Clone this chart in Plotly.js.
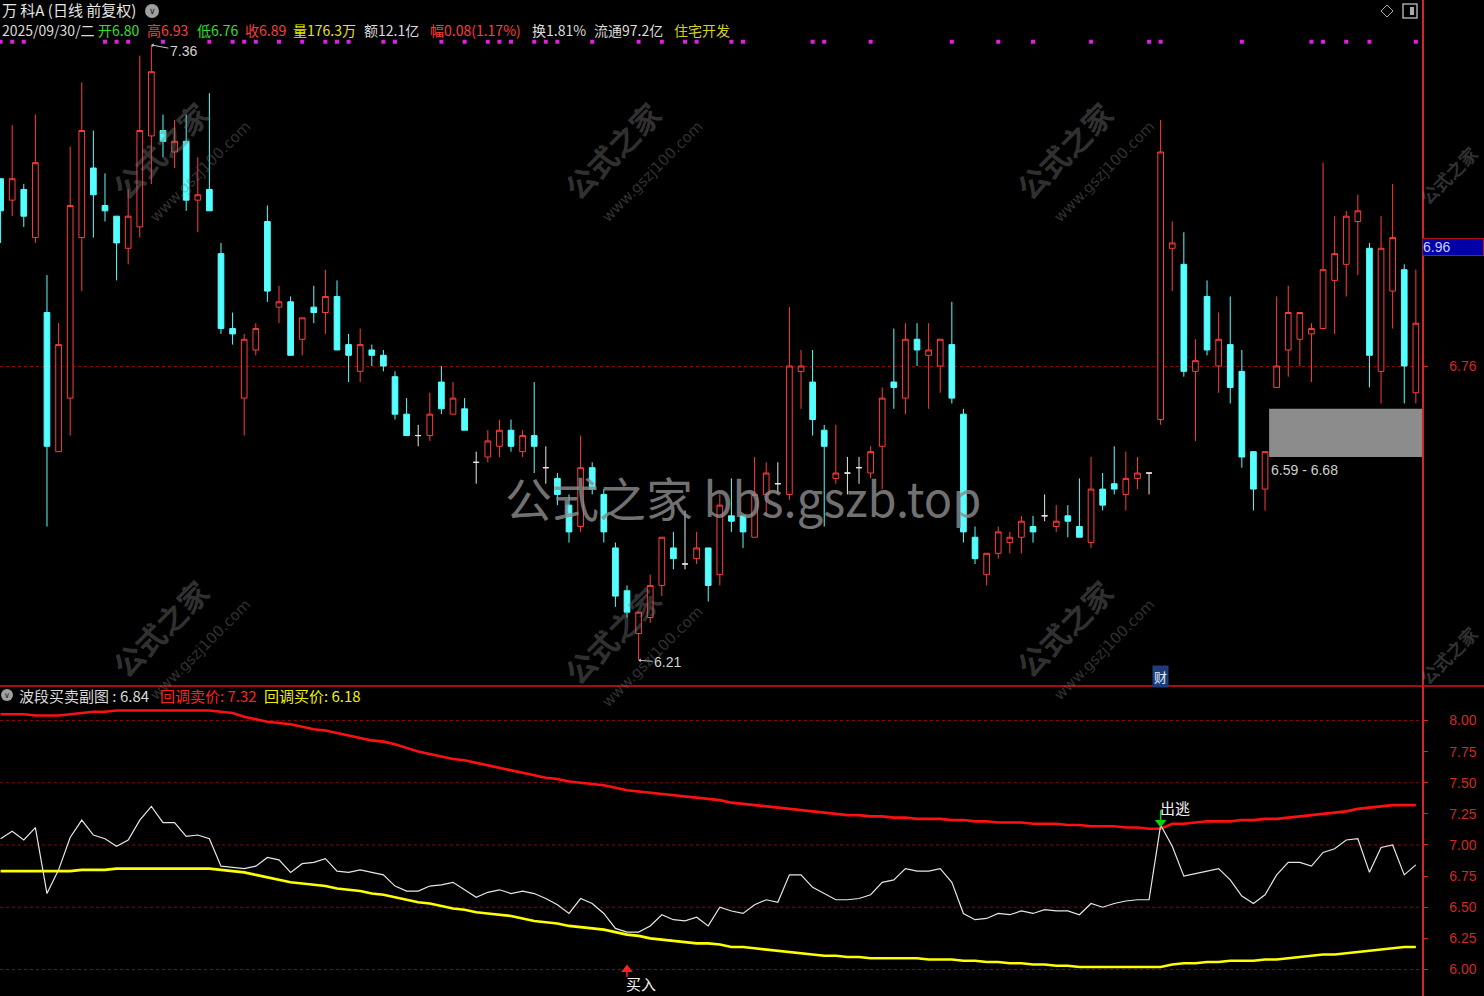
<!DOCTYPE html>
<html><head><meta charset="utf-8">
<script src="https://cdn.plot.ly/plotly-3.0.1.min.js"></script>
<style>html,body{margin:0;padding:0;background:#000;overflow:hidden}#chart{width:1484px;height:996px}</style>
</head><body><div id="chart"></div>
<script>
// ---------- data ----------
const openP  = [7.11,7.07,7.09,7.00,6.86,6.60,6.70,7.00,7.13,7.06,7.04,6.98,7.02,7.19,7.20,7.16,7.18,7.07,7.09,6.97,
                6.83,6.70,6.79,7.03,6.87,6.88,6.81,6.87,6.86,6.89,6.80,6.75,6.79,6.78,6.74,6.67,6.63,6.63,6.73,6.67,
                6.68,6.58,6.59,6.61,6.64,6.60,6.63,6.57,6.55,6.50,6.46,6.57,6.52,6.42,6.34,6.26,6.29,6.35,6.42,6.39,
                6.40,6.42,6.37,6.48,6.48,6.44,6.52,6.54,6.52,6.75,6.73,6.64,6.55,6.56,6.57,6.56,6.61,6.73,6.70,6.81,
                6.78,6.76,6.80,6.67,6.44,6.37,6.41,6.43,6.44,6.46,6.48,6.46,6.48,6.46,6.43,6.53,6.54,6.52,6.55,6.56,
                6.66,6.98,6.95,6.75,6.89,6.76,6.80,6.75,6.60,6.53,6.72,6.79,6.81,6.82,6.83,6.92,6.95,7.03,6.98,6.75,
                6.90,6.94,6.71];
const highP  = [7.11,7.21,7.10,7.23,6.93,6.84,7.17,7.29,7.20,7.12,7.04,7.09,7.34,7.36,7.23,7.22,7.23,7.15,7.27,6.99,
                6.86,6.82,6.84,7.06,6.91,6.89,6.85,6.91,6.94,6.92,6.82,6.83,6.80,6.79,6.75,6.70,6.65,6.71,6.76,6.73,
                6.70,6.60,6.64,6.66,6.66,6.64,6.73,6.61,6.56,6.52,6.63,6.58,6.53,6.43,6.35,6.30,6.37,6.44,6.45,6.49,
                6.45,6.42,6.52,6.55,6.48,6.59,6.58,6.58,6.87,6.79,6.79,6.65,6.65,6.59,6.59,6.61,6.72,6.83,6.84,6.84,
                6.84,6.81,6.88,6.68,6.46,6.41,6.46,6.45,6.48,6.48,6.52,6.50,6.50,6.55,6.59,6.56,6.61,6.60,6.59,6.56,
                7.22,7.03,7.01,6.81,6.92,6.86,6.89,6.79,6.60,6.60,6.89,6.91,6.86,6.84,7.14,7.04,7.05,7.08,6.99,7.04,
                7.10,6.95,6.94];
const lowP   = [6.99,7.04,7.02,6.99,6.46,6.60,6.63,6.90,7.00,7.03,6.92,6.95,7.00,7.10,7.15,7.13,7.05,7.01,7.05,6.82,
                6.80,6.63,6.78,6.88,6.84,6.78,6.78,6.84,6.82,6.79,6.73,6.73,6.76,6.75,6.66,6.63,6.61,6.62,6.67,6.67,
                6.64,6.54,6.58,6.59,6.60,6.59,6.56,6.54,6.50,6.43,6.45,6.52,6.43,6.31,6.29,6.21,6.28,6.33,6.38,6.38,
                6.39,6.32,6.35,6.45,6.42,6.44,6.48,6.52,6.51,6.68,6.63,6.46,6.54,6.52,6.54,6.55,6.53,6.68,6.67,6.76,
                6.68,6.71,6.69,6.43,6.39,6.35,6.40,6.41,6.41,6.43,6.47,6.45,6.44,6.44,6.42,6.49,6.52,6.49,6.53,6.52,
                6.65,6.90,6.74,6.62,6.78,6.71,6.69,6.57,6.49,6.49,6.72,6.74,6.76,6.73,6.83,6.82,6.89,6.93,6.72,6.69,
                6.83,6.69,6.69];
const closeP = [7.05,7.11,7.04,7.14,6.61,6.80,7.06,7.20,7.08,7.05,6.99,7.04,7.20,7.31,7.18,7.18,7.07,7.08,7.05,6.83,
                6.82,6.81,6.83,6.90,6.88,6.78,6.85,6.86,6.89,6.79,6.78,6.80,6.78,6.76,6.67,6.63,6.63,6.67,6.68,6.70,
                6.64,6.58,6.62,6.64,6.61,6.63,6.61,6.57,6.52,6.45,6.57,6.53,6.45,6.33,6.30,6.30,6.35,6.44,6.40,6.39,
                6.42,6.35,6.50,6.47,6.45,6.52,6.56,6.54,6.76,6.76,6.66,6.61,6.56,6.56,6.57,6.60,6.70,6.72,6.81,6.79,
                6.79,6.81,6.70,6.45,6.40,6.41,6.45,6.44,6.47,6.45,6.48,6.47,6.47,6.44,6.53,6.50,6.53,6.55,6.56,6.56,
                7.16,6.99,6.75,6.77,6.79,6.81,6.72,6.59,6.53,6.60,6.76,6.86,6.86,6.83,6.94,6.97,7.04,7.05,6.78,6.98,
                7.00,6.76,6.84];
// 回调卖价 (red) and 回调买价 (yellow)
const sellLine = [8.05,8.05,8.05,8.04,8.04,8.04,8.05,8.06,8.07,8.07,8.08,8.08,8.08,8.08,8.08,8.08,8.08,8.08,8.08,8.07,
                  8.06,8.03,8.01,7.99,7.98,7.97,7.95,7.93,7.92,7.90,7.88,7.86,7.84,7.83,7.81,7.78,7.75,7.73,7.71,7.69,
                  7.68,7.66,7.64,7.62,7.60,7.58,7.56,7.54,7.53,7.51,7.50,7.49,7.48,7.46,7.44,7.43,7.42,7.41,7.40,7.39,
                  7.38,7.37,7.36,7.34,7.33,7.32,7.31,7.30,7.29,7.28,7.27,7.26,7.25,7.24,7.24,7.23,7.23,7.22,7.22,7.21,
                  7.21,7.21,7.20,7.20,7.19,7.19,7.18,7.18,7.18,7.17,7.17,7.17,7.16,7.16,7.15,7.15,7.15,7.14,7.14,7.13,
                  7.13,7.17,7.17,7.18,7.19,7.19,7.19,7.20,7.20,7.21,7.21,7.22,7.23,7.24,7.25,7.26,7.27,7.29,7.30,7.31,
                  7.32,7.32,7.32];
const buyLine  = [6.79,6.79,6.79,6.79,6.79,6.79,6.79,6.80,6.80,6.80,6.81,6.81,6.81,6.81,6.81,6.81,6.81,6.81,6.81,6.80,
                  6.79,6.78,6.76,6.74,6.72,6.70,6.69,6.68,6.67,6.65,6.64,6.63,6.61,6.60,6.58,6.56,6.54,6.53,6.51,6.49,
                  6.48,6.46,6.45,6.44,6.43,6.41,6.39,6.38,6.37,6.35,6.34,6.33,6.32,6.30,6.28,6.27,6.25,6.24,6.23,6.22,
                  6.21,6.21,6.20,6.18,6.18,6.17,6.16,6.15,6.14,6.13,6.12,6.11,6.11,6.10,6.10,6.09,6.09,6.09,6.09,6.09,
                  6.08,6.08,6.08,6.07,6.07,6.06,6.06,6.05,6.05,6.04,6.04,6.03,6.03,6.02,6.02,6.02,6.02,6.02,6.02,6.02,
                  6.02,6.04,6.05,6.05,6.06,6.06,6.07,6.07,6.07,6.08,6.08,6.09,6.10,6.11,6.12,6.12,6.13,6.14,6.15,6.16,
                  6.17,6.18,6.18];
const signalDots = [0,1,2,9,10,11,14,18,20,21,22,24,26,28,29,30,33,34,38,40,42,43,44,46,47,48,51,55,57,59,60,63,64,
                    70,71,75,82,86,89,94,99,100,107,113,114,116,118,122];
const buyIndex = 54, escapeIndex = 100, caiIndex = 100;
const highMark = {i:13, v:7.36}, lowMark = {i:55, v:6.21};
const gapZone = {start:109, lo:6.59, hi:6.68};
const mainTicks = [6.76];
const subTicks = [6.00,6.25,6.50,6.75,7.00,7.25,7.50,7.75,8.00];
const subGrid = [6.00,6.50,7.00,7.50,8.00];
const headerLine1 = '万 科A (日线 前复权)';
const headerItems = ['2025/09/30/二','开6.80','高6.93','低6.76','收6.89','量176.3万','额12.1亿','幅0.08(1.17%)','换1.81%','流通97.2亿','住宅开发'];
const subTitle = {name:'波段买卖副图', val:'6.84', sellLbl:'回调卖价', sellVal:'7.32', buyLbl:'回调买价', buyVal:'6.18'};
const cursorPrice = '6.96';

// ---------- layout geometry & styles ----------
const W = 1484, H = 996, PW = 1422, SPLIT = 686;
const px = p => p / PW;              // pixel x -> paper x
const py = p => 1 - p / H;           // pixel y -> paper y
const xRange = [-0.05, 122.53];
const mainRange = [6.162, 7.444];
const subRange = [5.787, 8.277];
const RED = '#ff3c3c', CYAN = '#54ffff', AXRED = '#d02828', GRID = '#9a0000';
const headerX = [0, 96, 145, 195, 243, 291, 362, 428, 530, 592, 672];
const headerColors = ['#dcdcdc','#2ee02e','#ff3c3c','#2ee02e','#ff3c3c','#e6e600','#dcdcdc','#ff3c3c','#dcdcdc','#dcdcdc','#d2d21e'];

const N = closeP.length;
const idx = Array.from({length:N}, (_, i) => i);
const dojiIdx = idx.filter(i => openP[i] === closeP[i]);
const bodyIdx = idx.filter(i => openP[i] !== closeP[i]);
const pick = (arr, ids) => ids.map(i => arr[i]);

function candles(ids, incLine, incFill, decLine, decFill) {
  return {type:'candlestick', x: ids, open: pick(openP, ids), high: pick(highP, ids),
    low: pick(lowP, ids), close: pick(closeP, ids), xaxis:'x', yaxis:'y',
    increasing:{line:{color:incLine, width:1}, fillcolor:incFill},
    decreasing:{line:{color:decLine, width:1}, fillcolor:decFill},
    whiskerwidth:0, hoverinfo:'none', showlegend:false};
}

const traces = [
  candles(bodyIdx, RED, '#000000', CYAN, CYAN),
  candles(dojiIdx, '#e8e8e8', '#e8e8e8', '#e8e8e8', '#e8e8e8'),
  {type:'scatter', mode:'markers', x: signalDots, y: signalDots.map(() => 7.366), xaxis:'x', yaxis:'y',
   marker:{symbol:'square', size:4, color:'#e020e0'}, hoverinfo:'none', showlegend:false},
  {type:'scatter', mode:'lines', x: idx, y: sellLine, xaxis:'x', yaxis:'y2',
   line:{color:'#ff1010', width:2.6}, hoverinfo:'none', showlegend:false},
  {type:'scatter', mode:'lines', x: idx, y: buyLine, xaxis:'x', yaxis:'y2',
   line:{color:'#ffff00', width:2.6}, hoverinfo:'none', showlegend:false},
  {type:'scatter', mode:'lines', x: idx, y: closeP, xaxis:'x', yaxis:'y2',
   line:{color:'#e6e6e6', width:1.2}, hoverinfo:'none', showlegend:false},
  {type:'scatter', mode:'lines', x:[escapeIndex, escapeIndex], y:[sellLine[escapeIndex]+0.06, sellLine[escapeIndex]+0.15],
   xaxis:'x', yaxis:'y2', line:{color:'#10d010', width:1.5}, hoverinfo:'none', showlegend:false},
  {type:'scatter', mode:'markers', x:[escapeIndex], y:[sellLine[escapeIndex]+0.05], xaxis:'x', yaxis:'y2',
   marker:{symbol:'triangle-down', size:10, color:'#10d010'}, hoverinfo:'none', showlegend:false},
  {type:'scatter', mode:'lines', x:[buyIndex, buyIndex], y:[5.99, 5.94], xaxis:'x', yaxis:'y2',
   line:{color:'#ff2020', width:1.5}, hoverinfo:'none', showlegend:false},
  {type:'scatter', mode:'markers', x:[buyIndex], y:[6.0], xaxis:'x', yaxis:'y2',
   marker:{symbol:'triangle-up', size:10, color:'#ff2020'}, hoverinfo:'none', showlegend:false}
];

const CJK = '"Noto Sans CJK SC", "Noto Sans", sans-serif';
const WM = 'rgba(120,120,120,0.42)';
const wmSpots = [[160,150],[612,150],[1064,150],[160,628],[612,635],[1064,628]];
const wmEdge = [[1448,175],[1448,655]];

const annotations = [
  {xref:'paper', yref:'paper', x:0, y:py(9), xanchor:'left', yanchor:'middle', showarrow:false,
   text:headerLine1, font:{family:CJK, size:15, color:'#e6e6e6'}},
  {xref:'paper', yref:'paper', x:px(152), y:py(11), xanchor:'center', yanchor:'middle', showarrow:false,
   text:'∨', font:{family:'DejaVu Sans', size:9, color:'#202020'}},
  {xref:'paper', yref:'paper', x:px(17), y:py(695), xanchor:'left', yanchor:'middle', showarrow:false,
   text:`${subTitle.name} : ${subTitle.val}`, font:{family:CJK, size:15, color:'#d8d8d8'}},
  {xref:'paper', yref:'paper', x:px(158), y:py(695), xanchor:'left', yanchor:'middle', showarrow:false,
   text:`${subTitle.sellLbl}: ${subTitle.sellVal}`, font:{family:CJK, size:15, color:'#ff2020'}},
  {xref:'paper', yref:'paper', x:px(262), y:py(695), xanchor:'left', yanchor:'middle', showarrow:false,
   text:`${subTitle.buyLbl}: ${subTitle.buyVal}`, font:{family:CJK, size:15, color:'#f0f000'}},
  {xref:'paper', yref:'paper', x:px(7), y:py(695), xanchor:'center', yanchor:'middle', showarrow:false,
   text:'∨', font:{family:'DejaVu Sans', size:8, color:'#202020'}},
  {xref:'x', yref:'y', x:highMark.i, y:highMark.v, text:highMark.v.toFixed(2), showarrow:true, ax:32, ay:6,
   arrowhead:1, arrowsize:0.7, arrowwidth:1, arrowcolor:'#c8c8c8', standoff:0, startstandoff:0,
   font:{family:'Liberation Sans', size:14, color:'#d2d2d2'}},
  {xref:'x', yref:'y', x:lowMark.i, y:lowMark.v, text:lowMark.v.toFixed(2), showarrow:true, ax:29, ay:2,
   arrowhead:1, arrowsize:0.7, arrowwidth:1, arrowcolor:'#c8c8c8', standoff:0, startstandoff:0,
   font:{family:'Liberation Sans', size:14, color:'#d2d2d2'}},
  {xref:'x', yref:'y', x:gapZone.start+0.35, y:gapZone.lo, xanchor:'left', yanchor:'top', yshift:-3, showarrow:false,
   text:`${gapZone.lo.toFixed(2)} - ${gapZone.hi.toFixed(2)}`, font:{family:'Liberation Sans', size:14, color:'#cfcfcf'}},
  {xref:'x', yref:'paper', x:caiIndex, y:py(676), xanchor:'center', yanchor:'middle', showarrow:false,
   text:'财', bgcolor:'#1e3c7a', borderpad:1, font:{family:CJK, size:13, color:'#e4ecff'}},
  {xref:'paper', yref:'paper', x:1, y:py(247), xanchor:'left', yanchor:'middle', showarrow:false,
   text:cursorPrice, align:'left', width:60, height:16, bgcolor:'#0000a8', bordercolor:'#b01010', borderwidth:1, borderpad:0,
   font:{family:'Liberation Sans', size:14, color:'#c8d0ff'}},
  {xref:'x', yref:'y2', x:escapeIndex, y:sellLine[escapeIndex]+0.17, xanchor:'left', xshift:-3, yanchor:'middle', showarrow:false,
   text:'出逃', font:{family:CJK, size:15, color:'#f0f0f0'}},
  {xref:'x', yref:'y2', x:buyIndex, y:5.89, xanchor:'left', xshift:-3, yanchor:'middle', showarrow:false,
   text:'买入', font:{family:CJK, size:15, color:'#f0f0f0'}},
  {xref:'paper', yref:'paper', x:px(743), y:py(496), xanchor:'center', yanchor:'middle', showarrow:false,
   text:'公式之家 bbs.gszb.top', font:{family:CJK, size:47, color:'rgba(140,140,140,0.82)'}}
];
headerItems.forEach((t, k) => annotations.push({xref:'paper', yref:'paper', x:px(headerX[k]), y:py(29.5),
  xanchor:'left', yanchor:'middle', showarrow:false, text:t, font:{family:CJK, size:14, color:headerColors[k]}}));
wmSpots.forEach(([wx, wy]) => {
  annotations.push({xref:'paper', yref:'paper', x:px(wx), y:py(wy), xanchor:'center', yanchor:'middle', showarrow:false,
    text:'<b>公式之家</b>', textangle:-45, font:{family:CJK, size:30, color:WM}});
  annotations.push({xref:'paper', yref:'paper', x:px(wx+40), y:py(wy+22), xanchor:'center', yanchor:'middle', showarrow:false,
    text:'www.gszj100.com', textangle:-45, font:{family:'DejaVu Sans', size:15, color:WM}});
});
wmEdge.forEach(([wx, wy]) => annotations.push({xref:'paper', yref:'paper', x:px(wx), y:py(wy), xanchor:'center',
  yanchor:'middle', showarrow:false, text:'<b>公式之家</b>', textangle:-45, font:{family:CJK, size:18, color:WM}}));

const shapes = [
  {type:'rect', xref:'x', yref:'y', x0:gapZone.start+0.35, x1:xRange[1], y0:gapZone.lo, y1:gapZone.hi,
   fillcolor:'#8c8c8c', line:{width:0}, layer:'below'},
  {type:'line', xref:'paper', yref:'paper', x0:0, x1:W/PW, y0:py(SPLIT), y1:py(SPLIT), line:{color:'#e01010', width:1.6}},
  {type:'circle', xref:'paper', yref:'paper', xsizemode:'pixel', ysizemode:'pixel', xanchor:px(152), yanchor:py(11),
   x0:-7, x1:7, y0:-7, y1:7, fillcolor:'#a0a0a0', line:{width:0}},
  {type:'circle', xref:'paper', yref:'paper', xsizemode:'pixel', ysizemode:'pixel', xanchor:px(7), yanchor:py(695),
   x0:-6, x1:6, y0:-6, y1:6, fillcolor:'#a0a0a0', line:{width:0}},
  {type:'path', xref:'paper', yref:'paper', xsizemode:'pixel', ysizemode:'pixel', xanchor:px(1387), yanchor:py(11),
   path:'M 0 6 L 6 0 L 0 -6 L -6 0 Z', line:{color:'#a8a8a8', width:1}},
  {type:'rect', xref:'paper', yref:'paper', xsizemode:'pixel', ysizemode:'pixel', xanchor:px(1410), yanchor:py(11),
   x0:-7, x1:7, y0:-7, y1:7, line:{color:'#a8a8a8', width:1.5}},
  {type:'rect', xref:'paper', yref:'paper', xsizemode:'pixel', ysizemode:'pixel', xanchor:px(1410), yanchor:py(11),
   x0:0, x1:4, y0:-4, y1:4, fillcolor:'#a8a8a8', line:{width:0}}
].concat(subGrid.map(v => ({type:'line', xref:'paper', yref:'y2', x0:0, x1:1, y0:v, y1:v,
   line:{color:GRID, width:1, dash:'dot'}, layer:'below'})));

const axisCommon = {side:'right', showline:true, linecolor:AXRED, linewidth:1.5, ticks:'outside', ticklen:4,
  tickcolor:AXRED, tickwidth:1, tickfont:{family:'Liberation Sans', size:14, color:AXRED}, ticklabelstandoff:19,
  zeroline:false, fixedrange:true, anchor:'x'};

const layout = {
  width:W, height:H, paper_bgcolor:'#000', plot_bgcolor:'#000',
  margin:{l:0, r:W-PW, t:0, b:0, autoexpand:false}, showlegend:false, hovermode:false,
  xaxis:{range:xRange, visible:false, rangeslider:{visible:false}, fixedrange:true, anchor:'y2'},
  yaxis:Object.assign({}, axisCommon, {domain:[py(SPLIT), 1], range:mainRange, tickvals:mainTicks,
    ticktext:mainTicks.map(v => v.toFixed(2)), showgrid:true, gridcolor:GRID, griddash:'dot', gridwidth:1}),
  yaxis2:Object.assign({}, axisCommon, {domain:[0, py(SPLIT)], range:subRange, tickvals:subTicks,
    ticktext:subTicks.map(v => v.toFixed(2)), showgrid:false}),
  shapes, annotations
};

Plotly.newPlot('chart', traces, layout, {staticPlot:true, displayModeBar:false});
</script>
</body></html>
